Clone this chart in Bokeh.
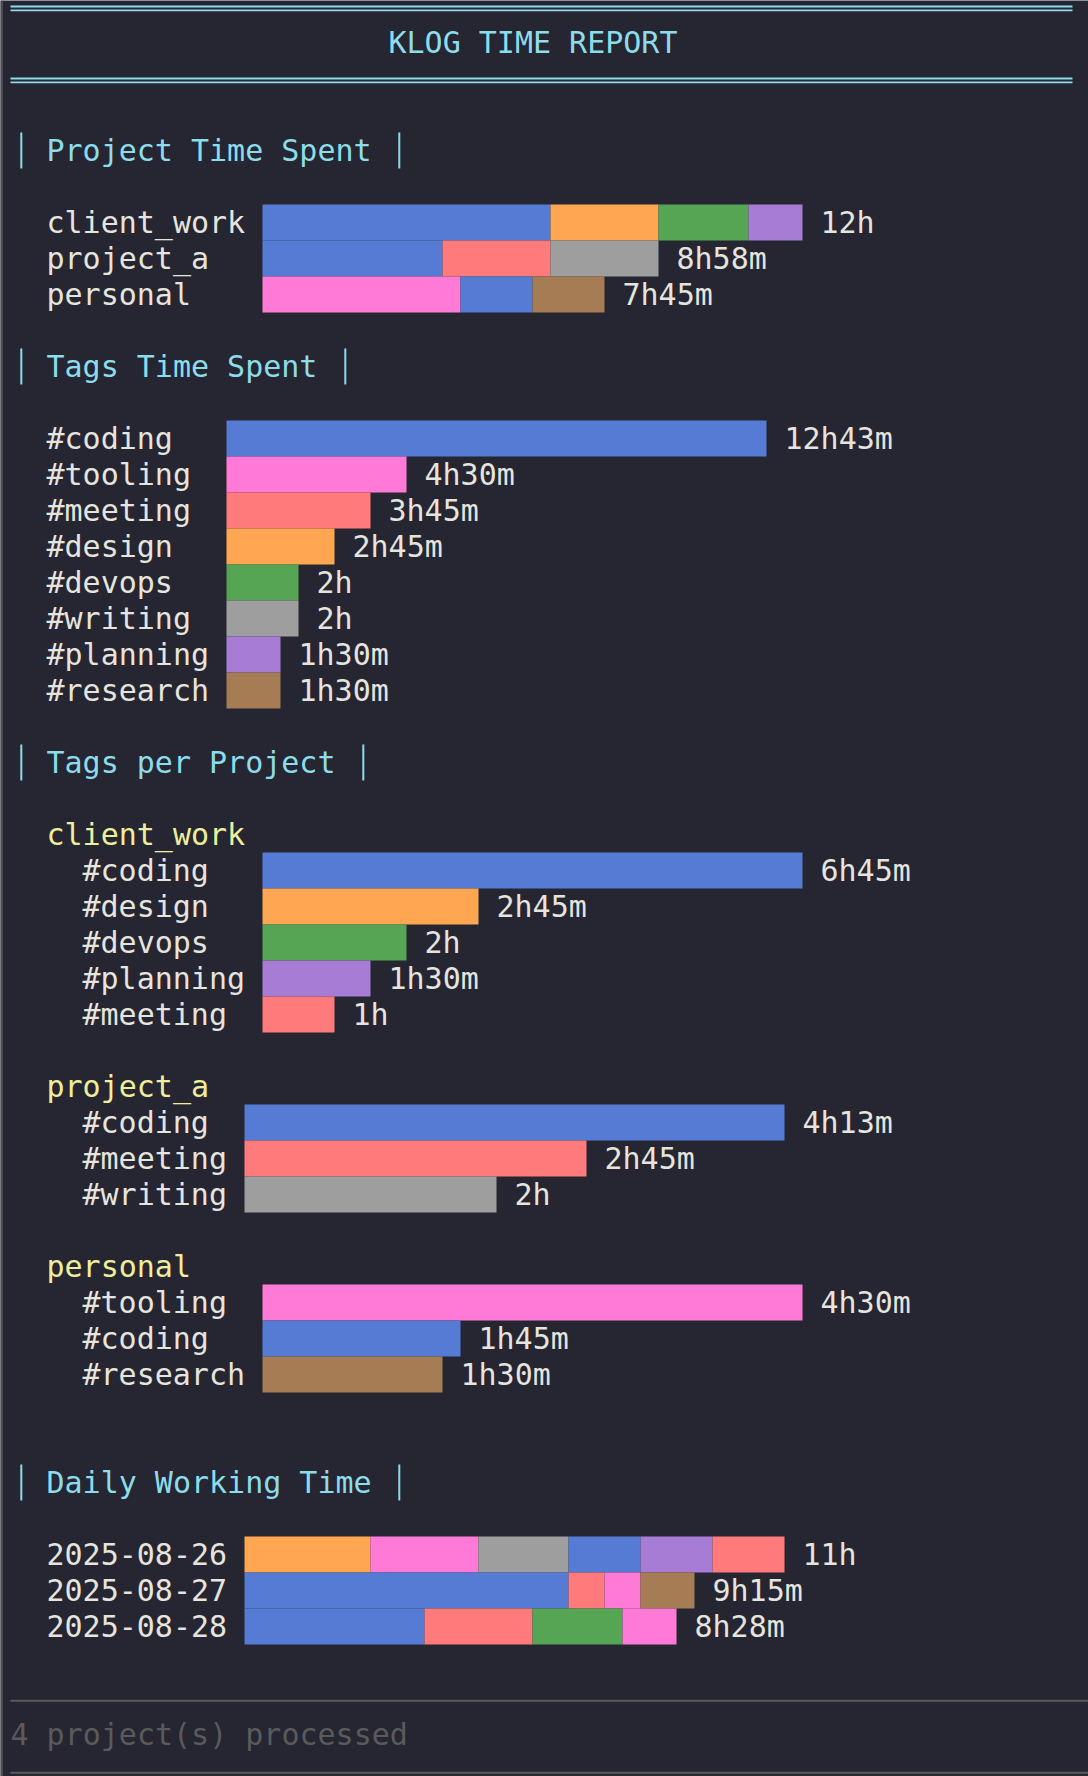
from bokeh.plotting import figure
from bokeh.models import Range1d, ColumnDataSource, Span
from bokeh.core.properties import value
from bokeh.embed import file_html
from bokeh.resources import INLINE

# ---------------- data ----------------
report_title = "KLOG TIME REPORT"

# Project Time Spent: stacked bars, segment lengths in terminal columns
projects = ["client_work", "project_a", "personal"]
project_totals = ["12h", "8h58m", "7h45m"]
proj_seg_project = ["client_work"] * 4 + ["project_a"] * 3 + ["personal"] * 3
proj_seg_tag = ["#coding", "#design", "#devops", "#planning",
                "#coding", "#meeting", "#writing",
                "#tooling", "#coding", "#research"]
proj_seg_cells = [16, 6, 5, 3, 10, 6, 6, 11, 4, 4]

# Tags Time Spent
tags = ["#coding", "#tooling", "#meeting", "#design",
        "#devops", "#writing", "#planning", "#research"]
tag_totals = ["12h43m", "4h30m", "3h45m", "2h45m", "2h", "2h", "1h30m", "1h30m"]
tag_cells = [30, 10, 8, 6, 4, 4, 3, 3]

# Tags per Project
tpp_project = ["client_work"] * 5 + ["project_a"] * 3 + ["personal"] * 3
tpp_tag = ["#coding", "#design", "#devops", "#planning", "#meeting",
           "#coding", "#meeting", "#writing",
           "#tooling", "#coding", "#research"]
tpp_totals = ["6h45m", "2h45m", "2h", "1h30m", "1h",
              "4h13m", "2h45m", "2h",
              "4h30m", "1h45m", "1h30m"]
tpp_cells = [30, 12, 8, 6, 4, 30, 19, 14, 30, 11, 10]

# Daily Working Time: stacked bars
days = ["2025-08-26", "2025-08-27", "2025-08-28"]
day_totals = ["11h", "9h15m", "8h28m"]
day_seg_day = ["2025-08-26"] * 6 + ["2025-08-27"] * 4 + ["2025-08-28"] * 4
day_seg_tag = ["#design", "#tooling", "#writing", "#coding", "#planning", "#meeting",
               "#coding", "#meeting", "#tooling", "#research",
               "#coding", "#meeting", "#devops", "#tooling"]
day_seg_cells = [7, 6, 5, 4, 4, 4, 18, 2, 2, 3, 10, 6, 5, 3]

footer_text = "4 project(s) processed"

tag_colors = {
    "#coding": "#567BD4", "#design": "#FFA652", "#devops": "#55A554",
    "#planning": "#A67CD4", "#meeting": "#FF7B7B", "#writing": "#9E9E9E",
    "#tooling": "#FF7AD6", "#research": "#A67C55",
}

# ---------------- styling / grid ----------------
W, H = 1088, 1776
CELL, ROW = 18.0, 36.0       # terminal cell size in px
X0, Y0 = 10.0, 24.0          # grid origin
BASE = 17.8 / ROW            # text anchor inside a row
BG = "#252631"
FG = "#E6E4DE"
CYAN = "#8CDCEC"
YELLOW = "#EFEE9C"
GREY = "#5A5A5C"
FONT = value("DejaVu Sans Mono")
FSIZE = "30px"

p = figure(width=W, height=H, output_backend="svg", toolbar_location=None,
           x_range=Range1d(-X0 / CELL, (W - X0) / CELL),
           y_range=Range1d((H - Y0) / ROW, -Y0 / ROW),
           x_axis_location=None, y_axis_location=None,
           min_border=0, background_fill_color=BG, border_fill_color=BG,
           outline_line_color=None)
p.grid.visible = False
p.min_border_left = p.min_border_right = p.min_border_top = p.min_border_bottom = 0


def text(cols, rows, texts, color):
    src = ColumnDataSource(dict(x=list(cols), y=[r + BASE for r in rows], t=list(texts)))
    p.text(x="x", y="y", text="t", source=src, text_font=FONT, text_font_size=FSIZE,
           text_color=color, text_baseline="alphabetic", text_align="left")


def bars(rows, lefts, cells, colors):
    src = ColumnDataSource(dict(y=[r + 0.5 for r in rows], l=list(lefts),
                                r=[a + b for a, b in zip(lefts, cells)], c=list(colors)))
    p.hbar(y="y", left="l", right="r", height=1.0, fill_color="c", line_color=None, source=src)


def section_title(row, title):
    text([2], [row], [title], CYAN)
    end_col = 2 + len(title) + 1
    p.segment(x0=[0.6, end_col + 0.6], x1=[0.6, end_col + 0.6], y0=[row, row], y1=[row + 1, row + 1],
              line_color=CYAN, line_width=2)


def double_line(row, ncols, color):
    p.segment(x0=[0, 0], x1=[ncols, ncols], y0=[row + 0.5, row + 0.61], y1=[row + 0.5, row + 0.61],
              line_color=color, line_width=1.8)


# left window edge
p.add_layout(Span(location=(1.2 - X0) / CELL, dimension="height", line_color="#4A4B55", line_width=2.5))

# ---------------- header ----------------
double_line(-1, 59, CYAN)
text([(59 - len(report_title)) // 2], [0], [report_title], CYAN)
double_line(1, 59, CYAN)

# ---------------- Project Time Spent ----------------
row = 3
section_title(row, "Project Time Spent")
row += 2
bar_col = 2 + max(len(s) for s in projects) + 1
proj_rows = {name: row + i for i, name in enumerate(projects)}
text([2] * len(projects), [proj_rows[n] for n in projects], projects, FG)
seg_left, acc = [], {}
for name, c in zip(proj_seg_project, proj_seg_cells):
    seg_left.append(bar_col + acc.get(name, 0))
    acc[name] = acc.get(name, 0) + c
bars([proj_rows[n] for n in proj_seg_project], seg_left, proj_seg_cells,
     [tag_colors[t] for t in proj_seg_tag])
text([bar_col + acc[n] + 1 for n in projects], [proj_rows[n] for n in projects], project_totals, FG)
row += len(projects) + 1

# ---------------- Tags Time Spent ----------------
section_title(row, "Tags Time Spent")
row += 2
bar_col = 2 + max(len(s) for s in tags) + 1
tag_rows = [row + i for i in range(len(tags))]
text([2] * len(tags), tag_rows, tags, FG)
bars(tag_rows, [bar_col] * len(tags), tag_cells, [tag_colors[t] for t in tags])
text([bar_col + c + 1 for c in tag_cells], tag_rows, tag_totals, FG)
row += len(tags) + 1

# ---------------- Tags per Project ----------------
section_title(row, "Tags per Project")
row += 2
for name in projects:
    idx = [i for i, pr in enumerate(tpp_project) if pr == name]
    text([2], [row], [name], YELLOW)
    row += 1
    ts = [tpp_tag[i] for i in idx]
    cs = [tpp_cells[i] for i in idx]
    bar_col = 4 + max(len(t) for t in ts) + 1
    rows = [row + k for k in range(len(idx))]
    text([4] * len(ts), rows, ts, FG)
    bars(rows, [bar_col] * len(ts), cs, [tag_colors[t] for t in ts])
    text([bar_col + c + 1 for c in cs], rows, [tpp_totals[i] for i in idx], FG)
    row += len(idx) + 1
row += 1

# ---------------- Daily Working Time ----------------
section_title(row, "Daily Working Time")
row += 2
bar_col = 2 + max(len(d) for d in days) + 1
day_rows = {d: row + i for i, d in enumerate(days)}
text([2] * len(days), [day_rows[d] for d in days], days, FG)
seg_left, acc = [], {}
for d, c in zip(day_seg_day, day_seg_cells):
    seg_left.append(bar_col + acc.get(d, 0))
    acc[d] = acc.get(d, 0) + c
bars([day_rows[d] for d in day_seg_day], seg_left, day_seg_cells,
     [tag_colors[t] for t in day_seg_tag])
text([bar_col + acc[d] + 1 for d in days], [day_rows[d] for d in days], day_totals, FG)
row += len(days) + 1

# ---------------- footer ----------------
p.segment(x0=[0, 0], x1=[61, 61], y0=[row + 0.56, row + 2.56], y1=[row + 0.56, row + 2.56],
          line_color=GREY, line_width=2)
text([0], [row + 1], [footer_text], GREY)

html = file_html(p, INLINE, title="klog time report")
html = html.replace("<body>", '<body style="margin:0;background:%s;overflow:hidden">' % BG, 1)
open("out.html", "w").write(html)
